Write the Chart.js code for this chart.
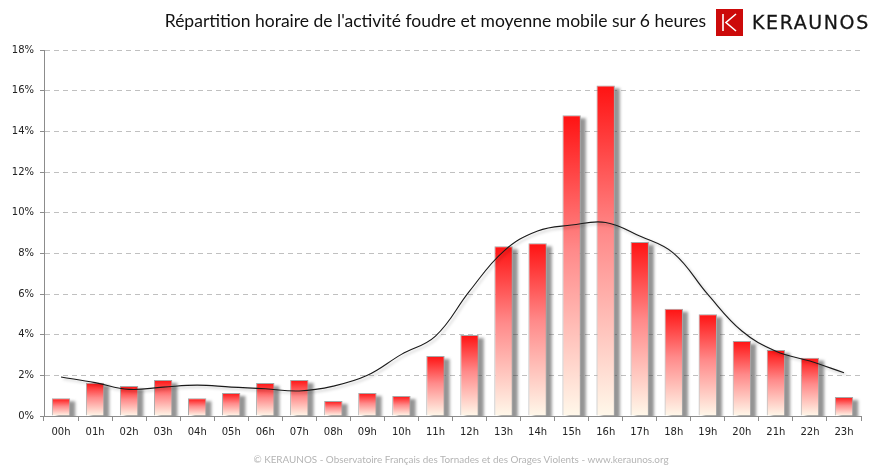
<!DOCTYPE html>
<html lang="fr">
<head>
<meta charset="utf-8">
<script src="https://cdn.jsdelivr.net/npm/chart.js@4.4.1/dist/chart.umd.min.js"></script>
<style>
    html, body { margin: 0; padding: 0; background: #fff; }
    .page { position: relative; width: 874px; height: 472px; overflow: hidden; }
    #chartFoudre { position: absolute; left: 0; top: 0; }
    .titre { position: absolute; left: 0; width: 706px; top: 10px; text-align: right;
        font-family: Lato, 'Open Sans', sans-serif; font-size: 17.5px; color: #111; white-space: nowrap; }
    .logo-carre { position: absolute; left: 716px; top: 9px; width: 27px; height: 27px; background: #cc0a0a; }
    .logo-texte { position: absolute; left: 752px; top: 11px; font-family: 'DejaVu Sans', sans-serif;
        font-size: 19px; letter-spacing: 1.6px; color: #151515; -webkit-text-stroke: 0.3px #151515; }
    .pied { position: absolute; left: 24px; width: 874px; top: 453px; text-align: center;
        font-family: Lato, 'Open Sans', sans-serif; font-size: 9.9px; color: #b4b4b4; }
</style>
</head>
<body>
<div class="page">
    <canvas id="chartFoudre" width="874" height="472"></canvas>
    <div class="titre">Répartition horaire de l'activité foudre et moyenne mobile sur 6 heures</div>
    <div class="logo-carre">
        <svg width="27" height="27" viewBox="0 0 27 27">
            <path d="M7 5 V22 M20 5 L10 13.5 L20 22" stroke="#fff" stroke-width="1.6" fill="none"/>
        </svg>
    </div>
    <div class="logo-texte">KERAUNOS</div>
    <div class="pied">© KERAUNOS - Observatoire Français des Tornades et des Orages Violents - www.keraunos.org</div>
</div>
<script>
const heures = ['00h', '01h', '02h', '03h', '04h', '05h', '06h', '07h', '08h', '09h', '10h', '11h',
    '12h', '13h', '14h', '15h', '16h', '17h', '18h', '19h', '20h', '21h', '22h', '23h'];
const activite = [0.87, 1.64, 1.47, 1.77, 0.87, 1.13, 1.62, 1.77, 0.74, 1.13, 0.98, 2.95,
    3.98, 8.35, 8.49, 14.79, 16.26, 8.56, 5.27, 5.01, 3.69, 3.24, 2.87, 0.93];
const moyenneMobile = [1.92, 1.64, 1.31, 1.42, 1.52, 1.42, 1.34, 1.23, 1.47, 2.0, 3.03, 3.93,
    6.14, 8.1, 9.1, 9.39, 9.52, 8.85, 8.0, 5.98, 4.18, 3.19, 2.7, 2.13];
const ticksY = [0, 2, 4, 6, 8, 10, 12, 14, 16, 18];

// degrade rouge -> creme, calcule pour chaque barre
function degradeBarre(ctx) {
    let chart = ctx.chart;
    if (!chart.chartArea || ctx.type !== 'data') return '#ff4040';
    let y = chart.scales.y;
    let haut = y.getPixelForValue(ctx.raw);
    let bas = y.getPixelForValue(0);
    let g = chart.ctx.createLinearGradient(0, haut, 0, bas);
    g.addColorStop(0, '#ff1212');
    g.addColorStop(0.45, '#ff8a8a');
    g.addColorStop(1, '#fff8ea');
    return g;
}

// ombre grise a droite des barres, ombre legere sous la courbe
const ombres = {
    id: 'ombres',
    beforeDatasetDraw(chart, args) {
        let ctx = chart.ctx;
        if (args.meta.type === 'bar') {
            let area = chart.chartArea;
            ctx.save();
            ctx.beginPath();
            ctx.rect(area.left, area.top - 20, area.right - area.left + 10, area.bottom - area.top + 20);
            ctx.clip();
            ctx.filter = 'blur(1.5px)';
            ctx.fillStyle = 'rgba(60,60,60,0.55)';
            args.meta.data.forEach(b => {
                ctx.fillRect(b.x - b.width / 2 + 5, b.y + 3, b.width, b.base - b.y);
            });
            ctx.restore();
            ctx.save();
        } else {
            ctx.save();
            ctx.shadowColor = 'rgba(0,0,0,0.25)';
            ctx.shadowOffsetX = 2;
            ctx.shadowOffsetY = 2;
            ctx.shadowBlur = 3;
        }
    },
    afterDatasetDraw(chart) {
        chart.ctx.restore();
    }
};

new Chart(document.getElementById('chartFoudre'), {
    data: {
        labels: heures,
        datasets: [
            {
                type: 'line',
                label: 'Moyenne mobile 6 h',
                data: moyenneMobile,
                borderColor: '#1a1a1a',
                borderWidth: 1.1,
                pointRadius: 0,
                tension: 0.4,
                fill: false,
                order: 0
            },
            {
                type: 'bar',
                label: 'Activité foudre',
                data: activite,
                backgroundColor: degradeBarre,
                borderColor: '#a8a8a8',
                borderWidth: 1,
                barPercentage: 0.54,
                categoryPercentage: 1,
                order: 1
            }
        ]
    },
    options: {
        responsive: false,
        animation: false,
        layout: { padding: { top: 50, right: 13, left: 0, bottom: 0 } },
        plugins: {
            legend: { display: false },
            tooltip: { enabled: false }
        },
        scales: {
            x: {
                afterFit: s => { s.height = 56; },
                grid: { offset: true, drawOnChartArea: false, tickLength: 5, color: '#8c8c8c' },
                border: { color: '#8c8c8c', width: 1 },
                ticks: { color: '#222', padding: 5, font: { family: 'DejaVu Sans', size: 10 }, maxRotation: 0, autoSkip: false }
            },
            y: {
                min: 0,
                max: 18,
                afterFit: s => { s.width = 44; },
                afterBuildTicks: s => { s.ticks = ticksY.map(v => ({ value: v })); },
                grid: { color: '#c0c0c0', tickLength: 4, tickColor: '#8c8c8c', tickBorderDash: [] },
                border: { color: '#8c8c8c', width: 1, dash: [5, 4] },
                ticks: { color: '#222', padding: 6, font: { family: 'DejaVu Sans', size: 10 }, callback: v => v + '%' }
            }
        }
    },
    plugins: [ombres]
});
</script>
</body>
</html>
